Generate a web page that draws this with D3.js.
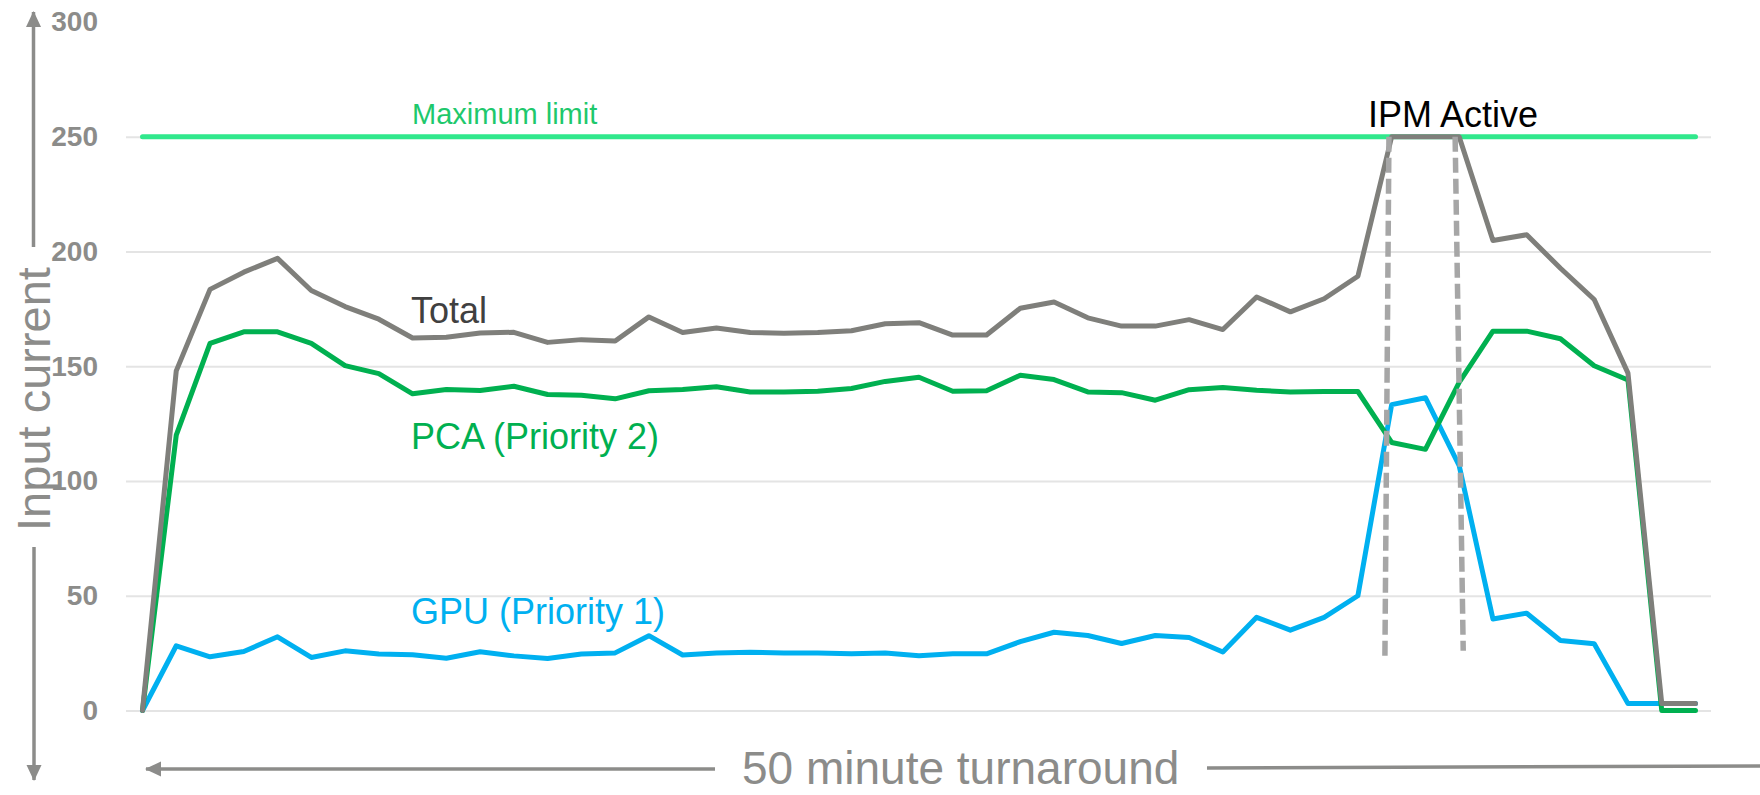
<html>
<script src="https://d3js.org/d3.v7.min.js"></script>
<style>
    body { margin: 0; background: #fff; }
    text { font-family: "Liberation Sans", Arial, sans-serif; }
</style>

<body>
    <script>
        var width = 1760;
        var height = 795;

        // readings, one per sample over the 50 minutes
        var total = [0, 148, 183.5, 191, 197, 183, 176, 170.5, 162.3, 162.6, 164.5, 164.8, 160.4, 161.6,
            161, 171.5, 164.7, 166.7, 164.7, 164.4, 164.7, 165.5, 168.5, 169, 163.6, 163.6, 175.3, 178,
            171.1, 167.5, 167.5, 170.3, 166, 180.2, 173.7, 179.4, 189.2, 250, 250, 250, 204.8, 207.3,
            192.7, 179.1, 147, 3, 3];
        var pca = [0, 120, 160, 165, 165, 160, 150.3, 146.8, 138, 139.9, 139.4, 141.3, 137.7, 137.4,
            135.8, 139.3, 139.9, 141.1, 138.8, 138.8, 139.1, 140.3, 143.4, 145.2, 139.1, 139.3, 146.1, 144.2,
            138.8, 138.5, 135.2, 139.8, 140.7, 139.5, 138.8, 139, 139, 116.8, 113.8, 143, 165.3, 165.3,
            162, 150.2, 144, 0, 0];
        var gpu = [0, 28.2, 23.4, 25.7, 32.1, 23.1, 26, 24.6, 24.3, 22.8, 25.6, 23.8, 22.7, 24.6,
            25.1, 32.6, 24.2, 25.1, 25.4, 25.1, 25.1, 24.7, 25.1, 23.9, 24.7, 24.7, 30, 34.1,
            32.7, 29.2, 32.7, 31.8, 25.5, 40.6, 35, 40.6, 50, 133.3, 136.3, 106.7, 39.9, 42.4,
            30.5, 29.1, 3, 3, 3];
        var maxLimit = 250;
        var yTicks = [0, 50, 100, 150, 200, 250, 300];
        // IPM window markers: [x, y] ends in data units
        var ipmMarks = [[[36.92, 250], [36.8, 22.5]], [[38.88, 250], [39.12, 26]]];

        var svg = d3.select("body").append("svg")
            .attr("width", width)
            .attr("height", height);

        var x = d3.scaleLinear().domain([0, total.length - 1]).range([142.5, 1695.5]);
        var y = d3.scaleLinear().domain([0, 300]).range([710.5, 22]);

        var axisGrey = "#8c8c8a";

        // grid + tick labels
        var yAxis = d3.axisLeft(y).tickValues(yTicks).tickSize(-(1711 - 126)).tickPadding(28);
        var ga = svg.append("g").attr("transform", "translate(126,0)").call(yAxis);
        ga.select(".domain").remove();
        ga.selectAll(".tick line")
            .attr("stroke", "#e4e4e4")
            .attr("stroke-width", 2)
            .attr("opacity", d => d == 300 ? 0 : 1);
        ga.selectAll(".tick text")
            .attr("font-family", "Liberation Sans, Arial, sans-serif")
            .attr("font-size", 28)
            .attr("font-weight", "bold")
            .attr("fill", axisGrey);

        var line = d3.line().x((d, i) => x(i)).y(d => y(d));

        svg.append("path")
            .attr("d", d3.line()([[x(0), y(maxLimit)], [x(total.length - 1), y(maxLimit)]]))
            .attr("stroke", "#30e88c")
            .attr("stroke-width", 5)
            .attr("stroke-linecap", "round")
            .attr("fill", "none");

        [[gpu, "#00b0f0"], [pca, "#00b050"], [total, "#7f7f7b"]].forEach(s => {
            svg.append("path")
                .datum(s[0])
                .attr("d", line)
                .attr("fill", "none")
                .attr("stroke", s[1])
                .attr("stroke-width", 5)
                .attr("stroke-linejoin", "round")
                .attr("stroke-linecap", "round");
        });

        ipmMarks.forEach(m => {
            svg.append("line")
                .attr("x1", x(m[0][0])).attr("y1", y(m[0][1]))
                .attr("x2", x(m[1][0])).attr("y2", y(m[1][1]))
                .attr("stroke", "#a6a6a6")
                .attr("stroke-width", 5.5)
                .attr("stroke-dasharray", "15 6");
        });

        // labels
        function label(t, px, py, size, color) {
            svg.append("text").attr("x", px).attr("y", py)
                .attr("font-size", size).attr("fill", color).text(t);
        }
        label("Maximum limit", 412, 124, 29, "#1ec86c");
        label("Total", 411, 323, 36, "#404040");
        label("PCA (Priority 2)", 411, 449, 36, "#00b050");
        label("GPU (Priority 1)", 411, 624, 36, "#00b0f0");
        label("IPM Active", 1368, 127, 36, "#000");

        // axis arrows
        svg.append("defs").append("marker")
            .attr("id", "arr")
            .attr("viewBox", "0 0 16 16")
            .attr("refX", 15).attr("refY", 8)
            .attr("markerWidth", 16).attr("markerHeight", 16)
            .attr("markerUnits", "userSpaceOnUse")
            .attr("orient", "auto")
            .append("path")
            .attr("d", "M0,0.5L16,8L0,15.5Z")
            .attr("fill", axisGrey);

        function arrow(x1, y1, x2, y2, head) {
            var l = svg.append("line")
                .attr("x1", x1).attr("y1", y1).attr("x2", x2).attr("y2", y2)
                .attr("stroke", axisGrey).attr("stroke-width", 3.5);
            if (head) l.attr("marker-end", "url(#arr)");
        }
        arrow(33.5, 247, 33.5, 12, true);
        arrow(34, 547, 34, 780, true);
        arrow(715, 769, 146, 769, true);
        arrow(1207, 768, 1760, 766, false);

        svg.append("text")
            .attr("transform", "translate(50,399) rotate(-90)")
            .attr("text-anchor", "middle")
            .attr("font-size", 47)
            .attr("fill", axisGrey)
            .text("Input current");

        svg.append("text")
            .attr("x", 742).attr("y", 784)
            .attr("font-size", 46)
            .attr("fill", axisGrey)
            .text("50 minute turnaround");
    </script>
</body>

</html>
